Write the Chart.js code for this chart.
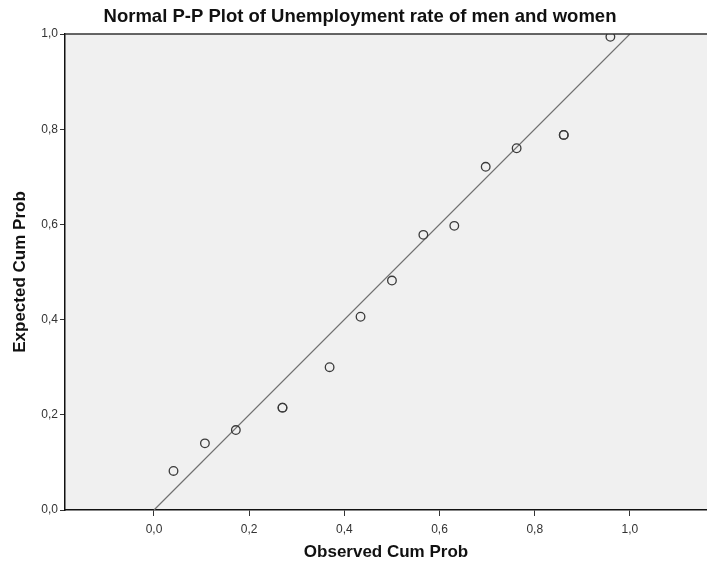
<!DOCTYPE html>
<html>
<head>
<meta charset="utf-8">
<script src="https://cdn.jsdelivr.net/npm/chart.js@4.4.1/dist/chart.umd.min.js"></script>
<style>
  html, body { margin: 0; padding: 0; background: #fff; }
  #wrap { width: 707px; height: 563px; }
</style>
</head>
<body>
<div id="wrap"><canvas id="ppPlot"></canvas></div>
<script>
// observed vs expected cumulative probabilities (ties drawn twice)
const observedCum = [0.041, 0.107, 0.172, 0.270, 0.270, 0.369, 0.434, 0.500, 0.566, 0.631, 0.697, 0.762, 0.861, 0.861, 0.959];
const expectedCum = [0.082, 0.140, 0.168, 0.215, 0.215, 0.300, 0.406, 0.482, 0.578, 0.597, 0.721, 0.760, 0.788, 0.788, 0.994];
const refLine = [0, 1];
const tickValues = [0, 0.2, 0.4, 0.6, 0.8, 1.0];

const FONT = "'Liberation Sans', Arial, sans-serif";
const TITLE = 'Normal P-P Plot of Unemployment rate of men and women';

const points = observedCum.map((x, i) => ({ x: x, y: expectedCum[i] }));

// grey plot background, top frame line and the title
const plotFrame = {
    id: 'plotFrame',
    beforeDraw(chart) {
        const { ctx, chartArea: a } = chart;
        ctx.save();
        ctx.fillStyle = '#f0f0f0';
        ctx.fillRect(a.left, a.top, a.right - a.left, a.bottom - a.top);
        ctx.restore();
    },
    afterDraw(chart) {
        const { ctx, chartArea: a } = chart;
        ctx.save();
        ctx.strokeStyle = '#333';
        ctx.lineWidth = 1.5;
        ctx.beginPath();
        ctx.moveTo(a.left, a.top);
        ctx.lineTo(a.right, a.top);
        ctx.stroke();

        ctx.fillStyle = '#111';
        ctx.font = `bold 18.5px ${FONT}`;
        ctx.textAlign = 'center';
        ctx.textBaseline = 'middle';
        ctx.fillText(TITLE, 360, 17);
        ctx.restore();
    }
};

const fmt = v => v.toFixed(1).replace('.', ',');

new Chart(document.getElementById('ppPlot'), {
    type: 'scatter',
    data: {
        datasets: [
            {
                label: 'Reference',
                type: 'line',
                data: refLine.map(v => ({ x: v, y: v })),
                borderColor: '#707070',
                borderWidth: 1.2,
                pointRadius: 0,
                fill: false,
                order: 2
            },
            {
                label: 'Observed',
                data: points,
                pointRadius: 4.3,
                pointBorderWidth: 1.3,
                pointBorderColor: '#3a3a3a',
                pointBackgroundColor: 'rgba(0,0,0,0)',
                order: 1
            }
        ]
    },
    options: {
        responsive: true,
        maintainAspectRatio: false,
        animation: false,
        layout: { autoPadding: false, padding: { top: 34, right: 0, left: 0, bottom: 0 } },
        plugins: {
            legend: { display: false },
            tooltip: { enabled: false },
            title: { display: false }
        },
        scales: {
            x: {
                type: 'linear',
                min: -0.187,
                max: 1.162,
                afterBuildTicks: s => { s.ticks = tickValues.map(v => ({ value: v })); },
                afterFit: s => { s.height = 53; s.paddingLeft = 0; s.paddingRight = 0; },
                ticks: {
                    callback: v => fmt(v),
                    color: '#333',
                    font: { family: FONT, size: 12 },
                    padding: 6,
                    maxRotation: 0
                },
                grid: { drawOnChartArea: false, drawTicks: true, tickLength: 6, color: '#333', lineWidth: 1 },
                border: { display: true, color: '#111', width: 1.5 },
                title: {
                    display: true,
                    text: 'Observed Cum Prob',
                    color: '#111',
                    font: { family: FONT, size: 17, weight: 'bold' },
                    padding: { top: 0, bottom: 0 }
                }
            },
            y: {
                type: 'linear',
                min: 0,
                max: 1,
                afterBuildTicks: s => { s.ticks = tickValues.map(v => ({ value: v })); },
                afterFit: s => { s.width = 65; s.paddingTop = 0; s.paddingBottom = 0; },
                ticks: {
                    callback: v => fmt(v),
                    color: '#333',
                    font: { family: FONT, size: 12 },
                    padding: 2
                },
                grid: { drawOnChartArea: false, drawTicks: true, tickLength: 5, color: '#333', lineWidth: 1 },
                border: { display: true, color: '#111', width: 1.5 },
                title: {
                    display: true,
                    text: 'Expected Cum Prob',
                    color: '#111',
                    font: { family: FONT, size: 17, weight: 'bold' },
                    padding: { top: 10, bottom: 0 }
                }
            }
        }
    },
    plugins: [plotFrame]
});
</script>
</body>
</html>
